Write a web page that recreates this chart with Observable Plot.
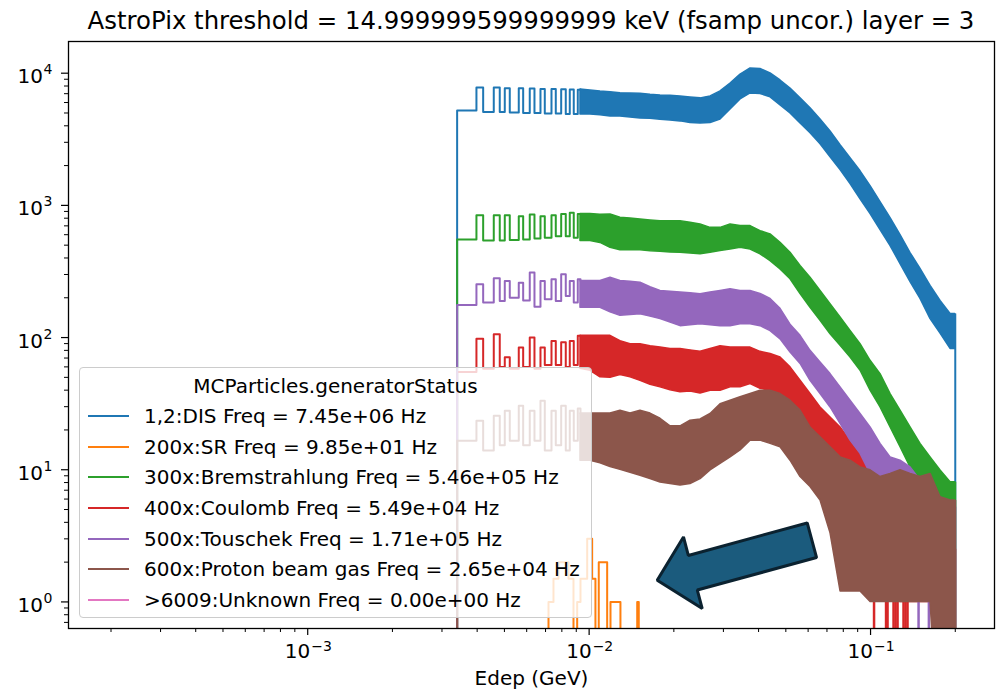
<!DOCTYPE html>
<html>
<head>
<meta charset="utf-8">
<script src="https://cdn.jsdelivr.net/npm/d3@7"></script>
<script src="https://cdn.jsdelivr.net/npm/@observablehq/plot@0.6"></script>
<style>
  html, body { margin: 0; padding: 0; background: #fff; }
  #fig { position: relative; width: 998px; height: 697px; overflow: hidden; font-family: "DejaVu Sans", sans-serif; background: #fff; }
  #titlesvg { position: absolute; left: 0; top: 0; }
  #plotwrap { position: absolute; left: 0; top: 40px; }
  #legend { position: absolute; left: 79px; top: 366.7px; width: 513px; height: 251px; box-sizing: border-box;
            background: rgba(255,255,255,0.8); border: 1px solid #cccccc; border-radius: 4px; }
  #legend .lt { position: absolute; left: 0; top: 3px; width: 100%; height: 30px; line-height: 30px; text-align: center; font-size: 20px; color: #000; }
  #legend .row { position: absolute; left: 0; height: 30.7px; display: flex; align-items: center; font-size: 20px; color: #000; white-space: nowrap; }
  #legend .h { margin-left: 8px; width: 41px; height: 2px; }
  #legend .tx { margin-left: 15px; }
</style>
</head>
<body>
<div id="fig">
  <svg id="titlesvg" width="998" height="40"><text x="531" y="29" text-anchor="middle" font-family="DejaVu Sans" font-size="24.4" fill="#000">AstroPix threshold = 14.999999599999999 keV (fsamp uncor.) layer = 3</text></svg>
  <div id="plotwrap"></div>
  <div id="legend"></div>
</div>
<script>
// ---------------- data ----------------
const legendTitle = "MCParticles.generatorStatus";
const seriesLabels = [
  "1,2:DIS Freq = 7.45e+06 Hz",
  "200x:SR Freq = 9.85e+01 Hz",
  "300x:Bremstrahlung Freq = 5.46e+05 Hz",
  "400x:Coulomb Freq = 5.49e+04 Hz",
  "500x:Touschek Freq = 1.71e+05 Hz",
  "600x:Proton beam gas Freq = 2.65e+04 Hz",
  ">6009:Unknown Freq = 0.00e+00 Hz"
];
const seriesColors = ["#1f77b4", "#ff7f0e", "#2ca02c", "#d62728", "#9467bd", "#8c564b", "#e377c2"];

// low-energy region: bin edges (GeV), shared by all series
const edgesLow = [0.003396, 0.003977, 0.004202, 0.004583, 0.004813, 0.005015, 0.005224, 0.005623, 0.005829, 0.006152,
  0.006394, 0.006716, 0.006957, 0.007349, 0.007612, 0.007956, 0.00826, 0.008535, 0.008818, 0.009113, 0.009317];
const blueLow   = [5230, 7800, 5080, 7800, 5080, 7710, 5050, 7700, 4990, 7650, 4990, 7600, 4950, 7580, 4950, 7550, 4910, 7530, 4910, 7510];
const greenLow  = [553, 843, 543, 843, 543, 843, 548, 829, 553, 853, 562, 829, 570, 843, 585, 862, 585, 878, 570, 862];
const redLow    = [55, 98, 58, 106, 60, 71, 58, 84, 60, 100, 58, 84, 62, 94, 62, 92, 60, 94, 62, 103];
const purpleLow = [176, 253, 184, 281, 189, 268, 200, 260, 191, 310, 171, 268, 195, 276, 189, 301, 206, 268, 184, 276];
const brownLow  = [16.6, 23.5, 14, 25.6, 15.3, 28, 16.6, 30.5, 15.3, 28, 16.6, 33.3, 14, 28, 15.3, 30.5, 14, 28, 16.6, 29];

// dense region: sample energies (GeV) and the band of bin-to-bin spread (low / high envelope of counts)
const bandEdges = [0.009317, 0.01011, 0.01097, 0.01191, 0.01292, 0.01403, 0.01522, 0.01652, 0.01793, 0.01946,
  0.02112, 0.02292, 0.02488, 0.027, 0.0293, 0.0318, 0.03451, 0.03746, 0.04064, 0.04412,
  0.04787, 0.05195, 0.05639, 0.06119, 0.06641, 0.07208, 0.07823, 0.08489, 0.09214, 0.1,
  0.1085, 0.1178, 0.1278, 0.1387, 0.1505, 0.1634, 0.1773, 0.1924, 0.2];
const blueHi = [7530, 7400, 7280, 7190, 7060, 7030, 7000, 6880, 6790, 6760, 6670, 6560, 6450, 6670, 7280, 8360, 9770, 10860, 10760, 9950,
  8810, 7660, 6450, 5420, 4470, 3630, 2850, 2270, 1810, 1400, 1060, 800, 596, 436, 330, 246, 189, 151];
const blueLo = [4880, 4880, 4800, 4710, 4710, 4630, 4550, 4530, 4450, 4380, 4320, 4200, 4170, 4200, 4470, 5320, 6330, 7030, 6970, 6560,
  5710, 4960, 4170, 3510, 2900, 2310, 1850, 1450, 1110, 859, 650, 492, 360, 263, 196, 138, 107, 82];
const greenHi = [862, 862, 850, 853, 805, 795, 783, 770, 760, 760, 760, 740, 718, 676, 676, 718, 697, 697, 639, 603,
  521, 438, 348, 284, 225, 179, 142, 112, 89, 66.7, 52.9, 37.4, 28, 20.9, 15.7, 12.4, 9.86, 8.05];
const greenLo = [537, 537, 520, 478, 457, 457, 457, 450, 446, 440, 438, 432, 426, 438, 451, 464, 478, 464, 426, 379,
  328, 276, 213, 168, 134, 106, 86.5, 70.6, 56.1, 39.6, 29.6, 20.9, 14.8, 10.4, 7.38, 5.86, 5.21, 4.14];
const redHi = [103, 103, 103, 103, 94, 89, 89, 86, 84, 82, 82, 80, 78, 82, 86, 84, 84, 84, 78, 75,
  70.6, 59.5, 47.1, 37.4, 29.6, 24.8, 20.9, 16.6, 14, 11.7, 9.3, 7.4, 6.2, 5.2, 4.1, 3.5, 2.9, 2.5];
const redLo = [58, 56, 50, 49.7, 52, 50, 47, 44, 42, 40, 38.5, 39, 37.7, 39.6, 39.6, 42, 42, 44.5, 41, 39.6,
  33.3, 26.4, 19.8, 15.7, 12.4, 10.4, 8.3, 5.85, 3.68, 2, 1.5, 1.2, 1, 1, 1, 1, 1, 1];
const purpleHi = [268, 268, 268, 284, 268, 264, 260, 240, 225, 222, 219, 216, 213, 219, 225, 232, 225, 225, 214, 196,
  165, 125, 103, 79.4, 64.7, 52.9, 42, 33.3, 26.4, 20.9, 15.7, 12.4, 11.7, 10.4, 8.3, 7.0, 5.85, 5.2];
const purpleLo = [168, 168, 168, 155, 146, 148, 150, 144, 138, 130, 122, 124, 126, 124, 122, 122, 126, 126, 122, 112,
  97, 77, 63.2, 47.1, 37.4, 29.6, 22.2, 16.6, 13.2, 9.31, 6.97, 5.21, 4.67, 2.5, 1.5, 1.2, 1, 1];
const brownHi = [26.6, 26.6, 26.6, 26.6, 28, 26.6, 28, 26.6, 24.3, 21.3, 21.3, 23.5, 24, 26.4, 31.3, 33.3, 35.4, 37.4, 39.6, 39.6,
  37.4, 33.3, 28, 20.9, 17.6, 14.8, 12.4, 11.7, 10.4, 9.9, 8.8, 9.3, 9.9, 9.3, 8.8, 9.3, 6.2, 5.85];
const brownLo = [11.7, 11.7, 11.2, 10.5, 10, 9.5, 9, 8.5, 8, 7.8, 7.6, 7.8, 8.5, 9.9, 11.1, 12.4, 14, 16.6, 16.6, 15.7,
  14.8, 11.7, 8.8, 7.4, 5.85, 3.3, 1.2, 1.2, 1.2, 1, 1, 1, 1, 1, 1, 1, 0, 0];

// single empty bins (count 0) in the tail, drawn as drops to the bottom
const redZeros = [0.1029, 0.11352, 0.11492, 0.1207, 0.1227, 0.12473, 0.13096, 0.13312, 0.13532];
const purpleZeros = [0.14812, 0.16116, 0.16788];

// SR (orange): sparse bins
const orangeEdges = [0.007172, 0.00747, 0.007783, 0.008446, 0.008799, 0.009068, 0.009317, 0.009842, 0.01025, 0.01053,
  0.01082, 0.01159, 0.01191, 0.01292, 0.01482, 0.01501];
const orangeValues = [1.0, 1.5, 2.0, 1.5, 0, 1.0, 1.5, 3.0, 1.5, 0, 2.0, 0, 1.0, 0, 1.0];

// axis ticks
const xMajor = [0.001, 0.01, 0.1];
const xTickExp = ["\u22123", "\u22122", "\u22121"];
const yMajor = [1, 10, 100, 1000, 10000];
const yTickExp = ["0", "1", "2", "3", "4"];
const xLabel = "Edep (GeV)";

// annotation arrow (in data coordinates: GeV, counts)
const arrowX = [0.017455, 0.021643, 0.022512, 0.05957, 0.0643, 0.024235, 0.025225];
const arrowY = [1.459, 3.100, 2.247, 3.958, 2.166, 1.230, 0.8915];

// ---------------- chart ----------------
const X_DOMAIN = [1.4125e-4, 0.2757];
const Y_DOMAIN = [0.6294, 17370];
const FLOOR = 0.05; // where zero counts are drawn (below the visible range)
const yPos = v => (v > 0 ? v : FLOOR);

function stepRows(edges, vals, tail) {
  const rows = [{x: edges[0], y: 0}];
  vals.forEach((v, i) => rows.push({x: edges[i], y: v}));
  rows.push({x: edges[vals.length], y: tail});
  return rows;
}
function bandRows(lo, hi) {
  return bandEdges.map((x, i) => ({x, lo: lo[Math.min(i, lo.length - 1)], hi: hi[Math.min(i, hi.length - 1)]}));
}
function seriesMarks(low, lo, hi, color, zeros) {
  const marks = [
    Plot.line(stepRows(edgesLow, low, hi[0]), {x: "x", y: d => yPos(d.y), curve: "step-after", stroke: color, strokeWidth: 2, clip: true}),
    Plot.areaY(bandRows(lo, hi), {x: "x", y1: d => yPos(d.lo), y2: "hi", curve: "linear", fill: color, stroke: color, strokeWidth: 1.5, clip: true}),
    Plot.ruleX([bandEdges[bandEdges.length - 1]], {x: d => d, y1: () => FLOOR, y2: () => hi[hi.length - 1], stroke: color, strokeWidth: 2, clip: true})
  ];
  if (zeros) marks.push(Plot.ruleX(zeros, {x: d => d, y1: () => FLOOR, y2: () => 1.2, stroke: color, strokeWidth: 2.5, clip: true}));
  return marks;
}

const xMinor = d3.scaleLog().domain(X_DOMAIN).ticks().filter(t => !xMajor.some(m => Math.abs(m - t) / m < 1e-6));
const yMinor = d3.scaleLog().domain(Y_DOMAIN).ticks().filter(t => !yMajor.some(m => Math.abs(m - t) / m < 1e-6));

const arrowRows = arrowX.map((x, i) => ({x, y: arrowY[i]}));

const plot = Plot.plot({
  width: 998,
  height: 657,
  marginTop: 1,
  marginBottom: 69,
  marginLeft: 68,
  marginRight: 4,
  style: {fontFamily: "DejaVu Sans", background: "transparent", overflow: "visible"},
  x: {type: "log", domain: X_DOMAIN, axis: null},
  y: {type: "log", domain: Y_DOMAIN, axis: null},
  marks: [
    ...seriesMarks(blueLow, blueLo, blueHi, seriesColors[0]),
    Plot.line(stepRows(orangeEdges, orangeValues, 0), {x: "x", y: d => yPos(d.y), curve: "step-after", stroke: seriesColors[1], strokeWidth: 2, clip: true}),
    ...seriesMarks(greenLow, greenLo, greenHi, seriesColors[2]),
    ...seriesMarks(redLow, redLo, redHi, seriesColors[3], redZeros),
    ...seriesMarks(purpleLow, purpleLo, purpleHi, seriesColors[4], purpleZeros),
    ...seriesMarks(brownLow, brownLo, brownHi, seriesColors[5]),
    Plot.line(arrowRows, {x: "x", y: "y", curve: "linear-closed", fill: "#1b5b7d", stroke: "#0b2230", strokeWidth: 3, strokeLinejoin: "miter"}),
    Plot.frame({stroke: "#000", strokeWidth: 1.3}),
    Plot.axisX({ticks: xMajor, tickSize: 7, tickFormat: () => "", label: null, strokeWidth: 1.2}),
    Plot.axisX({ticks: xMinor, tickSize: 4, tickFormat: () => "", label: null, strokeWidth: 1}),
    Plot.axisY({ticks: yMajor, tickSize: 7, tickFormat: () => "", label: null, strokeWidth: 1.2}),
    Plot.axisY({ticks: yMinor, tickSize: 4, tickFormat: () => "", label: null, strokeWidth: 1}),
    Plot.text(xMajor, {x: d => d, text: () => "10", frameAnchor: "bottom", dy: 29, dx: 2.5, textAnchor: "end", fontSize: 20, fill: "#000"}),
    Plot.text(xMajor, {x: d => d, text: (d, i) => xTickExp[i], frameAnchor: "bottom", dy: 22, dx: 3.5, textAnchor: "start", fontSize: 14, fill: "#000"}),
    Plot.text(yMajor, {y: d => d, text: () => "10", frameAnchor: "left", dx: -25.5, dy: 3.7, textAnchor: "end", fontSize: 20, fill: "#000"}),
    Plot.text(yMajor, {y: d => d, text: (d, i) => yTickExp[i], frameAnchor: "left", dx: -25, dy: -3.4, textAnchor: "start", fontSize: 14, fill: "#000"}),
    Plot.text([xLabel], {text: d => d, frameAnchor: "bottom", dy: 56, fontSize: 20, fill: "#000"})
  ]
});
document.getElementById("plotwrap").appendChild(plot);

// legend (overlay inside the axes, like matplotlib's)
const legend = document.getElementById("legend");
const lt = document.createElement("div");
lt.className = "lt";
lt.textContent = legendTitle;
legend.appendChild(lt);
seriesLabels.forEach((lab, i) => {
  const row = document.createElement("div");
  row.className = "row";
  row.style.top = (32.95 + 30.7 * i) + "px";
  const h = document.createElement("div");
  h.className = "h";
  h.style.background = seriesColors[i];
  const t = document.createElement("span");
  t.className = "tx";
  t.textContent = lab;
  row.appendChild(h);
  row.appendChild(t);
  legend.appendChild(row);
});
</script>
</body>
</html>
